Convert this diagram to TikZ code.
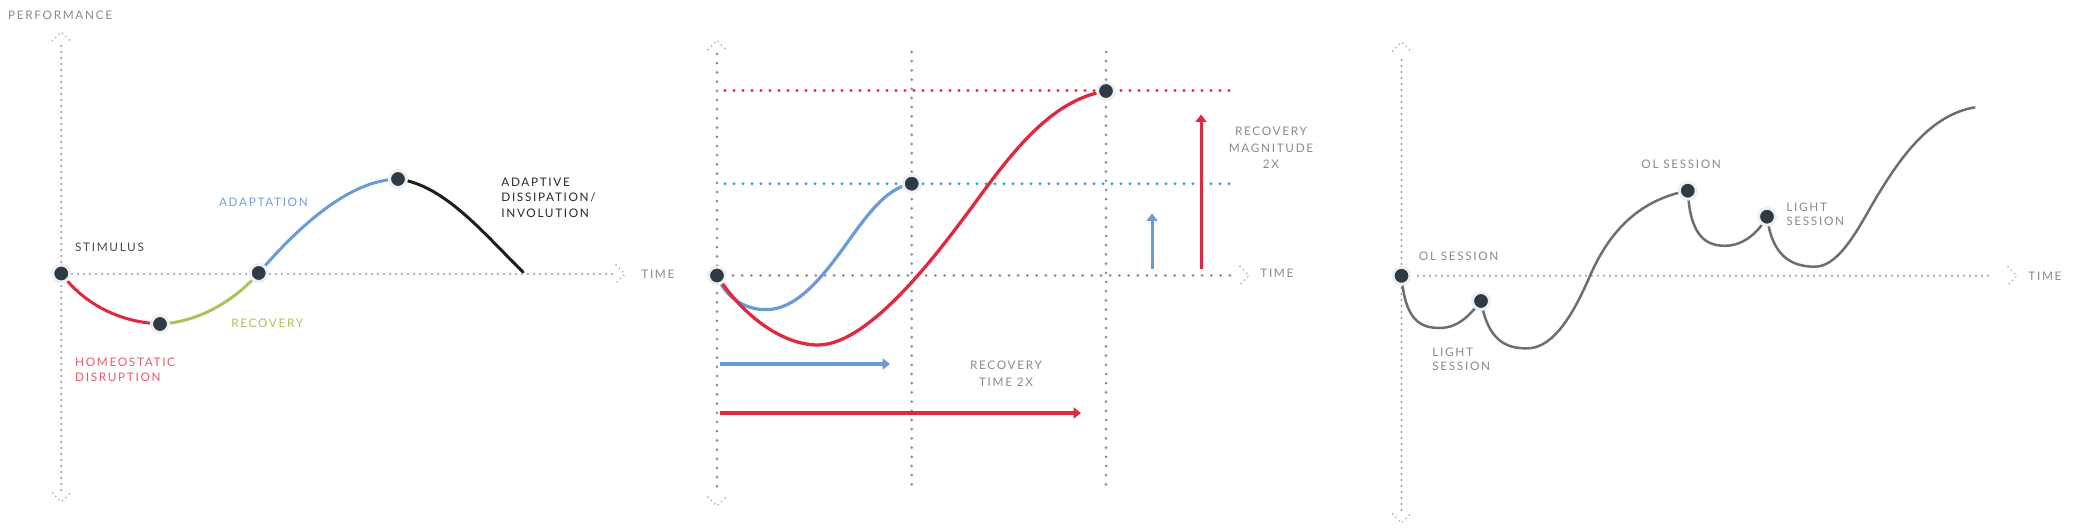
\documentclass[tikz,border=0pt]{standalone}
\usepackage{fontspec}
\setmainfont{Lato}[LetterSpace=14]
\usetikzlibrary{arrows.meta}
\definecolor{cred}{HTML}{E0283F}
\definecolor{credtxt}{HTML}{E85A6A}
\definecolor{cblue}{HTML}{6B9BD6}
\definecolor{cbluetxt}{HTML}{6FA0DA}
\definecolor{cgreen}{HTML}{A8C45A}
\definecolor{cblack}{HTML}{1E1E1E}
\definecolor{ccyan}{HTML}{2AA7DF}
\definecolor{cgraycurve}{HTML}{6E6E6E}
\definecolor{axisgray}{HTML}{9A9A9A}
\definecolor{gridgray}{HTML}{8E8E8E}
\definecolor{dotfill}{HTML}{2F3A45}
\definecolor{halo}{HTML}{EDF0F3}
\definecolor{txtgray}{HTML}{8A8A8A}
\definecolor{txtdark}{HTML}{4A4A4A}
\definecolor{txtblack}{HTML}{2A2A2A}
\begin{document}
\begin{tikzpicture}[x=0.5pt,y=-0.5pt,
  axisline/.style={draw=axisgray,line width=1.1pt,line cap=round,dash pattern=on 0pt off 3pt},
  gridline/.style={draw=gridgray,line width=1.5pt,line cap=round,dash pattern=on 0pt off 4.6pt},
  refline/.style={line width=1.6pt,line cap=round,dash pattern=on 0pt off 4.5pt},
  chev/.style={draw=axisgray,line width=0.8pt,line cap=round,dash pattern=on 0pt off 2.4pt},
  dotnode/.style={circle,fill=dotfill,draw=halo,line width=1.5pt,minimum size=8.5pt,inner sep=0pt},
  lbl/.style={font=\fontsize{5.9}{7.3}\selectfont,inner sep=0pt,align=left},
  curve/.style={line width=1.5pt,line cap=round},
  arr/.style={line width=1.6pt,-{Triangle[length=3.7pt,width=5.5pt]}}
]
\useasboundingbox (0,0) rectangle (2073,528);

% ================= Panel 1 =================
\coordinate (a1t) at (61.3,46);
\coordinate (a1b) at (61.3,490);
\coordinate (a1l) at (72,274);
\coordinate (a1r) at (614,274);
\coordinate (a1ct) at (61.3,32);
\coordinate (a1cb) at (61.3,502);
\coordinate (a1cr) at (625,274);
\draw[axisline] (a1t) -- (a1b);
\draw[axisline] (a1l) -- (a1r);
\draw[chev] ([shift={(-9,9)}]a1ct) -- (a1ct) -- ([shift={(9,9)}]a1ct);
\draw[chev] ([shift={(-9,-9)}]a1cb) -- (a1cb) -- ([shift={(9,-9)}]a1cb);
\draw[chev] ([shift={(-9,-9)}]a1cr) -- (a1cr) -- ([shift={(-9,9)}]a1cr);

\coordinate (S) at (61.3,273.5);
\coordinate (H) at (160,324);
\coordinate (R) at (258.7,273);
\coordinate (P) at (398,179);
\coordinate (E) at (523,272);
\draw[curve,cred] (S) .. controls (85,305) and (120,322) .. (H);
\draw[curve,cgreen] (H) .. controls (200,322) and (235,300) .. (R);
\draw[curve,cblue] (R) .. controls (300,225) and (350,180) .. (P);
\draw[curve,cblack] (P) .. controls (445,185) and (485,235) .. (E);
\node[dotnode] (Sd) at (S) {};
\node[dotnode] (Hd) at (H) {};
\node[dotnode] (Rd) at (R) {};
\node[dotnode] (Pd) at (P) {};

\node[lbl,text=txtgray,anchor=west] (perf) at (7.8,15.5) {PERFORMANCE};
\node[lbl,text=txtgray,anchor=west] (time1) at (641,274) {TIME};
\node[lbl,text=txtdark,anchor=west] (stim) at (74.8,247.5) {STIMULUS};
\node[lbl,text=cbluetxt,anchor=west] (adapt) at (218.7,202.6) {ADAPTATION};
\node[lbl,text=cgreen,anchor=west] (recov) at (231,323.4) {RECOVERY};
\node[lbl,text=credtxt,anchor=north west,font=\fontsize{5.9}{7.25}\selectfont] (homeo) at (74.8,357.8) {HOMEOSTATIC\\DISRUPTION};
\node[lbl,text=txtblack,anchor=north west,font=\fontsize{5.9}{7.65}\selectfont] (dissip) at (501,177.8) {ADAPTIVE\\DISSIPATION/\\INVOLUTION};

% ================= Panel 2 =================
\coordinate (g1t) at (717,54);
\coordinate (g1b) at (717,490);
\coordinate (g2t) at (911.7,52);
\coordinate (g2b) at (911.7,490);
\coordinate (g3t) at (1106,52);
\coordinate (g3b) at (1106,490);
\coordinate (g1ct) at (717,40.5);
\coordinate (g1cb) at (717,506);
\coordinate (gh0) at (733,275.5);
\coordinate (gh1) at (1236,275.5);
\coordinate (ghc) at (1249,275.5);
\coordinate (rl0) at (725,90.5);
\coordinate (rl1) at (1236,90.5);
\coordinate (bl0) at (725,183.7);
\coordinate (bl1) at (1236,183.7);
\draw[gridline] (g1t) -- (g1b);
\draw[gridline] (g2t) -- (g2b);
\draw[gridline] (g3t) -- (g3b);
\draw[gridline] (gh0) -- (gh1);
\draw[refline,draw=cred] (rl0) -- (rl1);
\draw[refline,draw=ccyan] (bl0) -- (bl1);
\draw[chev] ([shift={(-9,9)}]g1ct) -- (g1ct) -- ([shift={(9,9)}]g1ct);
\draw[chev] ([shift={(-9,-9)}]g1cb) -- (g1cb) -- ([shift={(9,-9)}]g1cb);
\draw[chev] ([shift={(-9,-9)}]ghc) -- (ghc) -- ([shift={(-9,9)}]ghc);

\coordinate (O2) at (717,275.5);
\coordinate (B2) at (911.7,183.7);
\coordinate (R2) at (1106,91);
\coordinate (bmin) at (766,309.6);
\coordinate (bmid) at (842,250);
\coordinate (rmin) at (818,345);
\coordinate (rmid) at (972,207);
\draw[line width=1.6pt,cblue,line cap=round] (O2) .. controls (725,297) and (745,310) .. (bmin)
   .. controls (795,310) and (820,280) .. (bmid)
   .. controls (865,218) and (885,188) .. (B2);
\draw[line width=1.65pt,cred,line cap=round] (O2) .. controls (740,312) and (780,345) .. (rmin)
   .. controls (870,345) and (940,250) .. (rmid)
   .. controls (1010,155) and (1050,100) .. (R2);
\node[dotnode] (O2d) at (O2) {};
\node[dotnode] (B2d) at (B2) {};
\node[dotnode] (R2d) at (R2) {};

\coordinate (ha0) at (719.6,364);
\coordinate (ha1) at (890,364);
\coordinate (hr0) at (719.6,413);
\coordinate (hr1) at (1081,413);
\coordinate (va0) at (1152,269);
\coordinate (va1) at (1152,213.5);
\coordinate (vr0) at (1201,269);
\coordinate (vr1) at (1201,114.5);
\draw[arr,cblue] (ha0) -- (ha1);
\draw[arr,cred] (hr0) -- (hr1);
\draw[arr,cblue,line width=1.5pt] (va0) -- (va1);
\draw[arr,cred,line width=1.5pt] (vr0) -- (vr1);

\node[lbl,text=txtgray,anchor=west] (time2) at (1260,273.5) {TIME};
\node[lbl,text=txtgray,anchor=north,align=center,font=\fontsize{5.9}{8.35}\selectfont] (rmag) at (1271,126.5) {RECOVERY\\MAGNITUDE\\2X};
\node[lbl,text=txtgray,anchor=north,align=center,font=\fontsize{5.9}{8.45}\selectfont] (rtime) at (1006,360.4) {RECOVERY\\TIME 2X};

% ================= Panel 3 =================
\coordinate (c1t) at (1401.5,60);
\coordinate (c1b) at (1401.5,510);
\coordinate (c1ct) at (1401.5,42);
\coordinate (c1cb) at (1401.5,523);
\coordinate (ch0) at (1418,275.8);
\coordinate (ch1) at (1991,275.8);
\coordinate (chc) at (2017,275.8);
\draw[axisline] (c1t) -- (c1b);
\draw[axisline] (ch0) -- (ch1);
\draw[chev] ([shift={(-9,9)}]c1ct) -- (c1ct) -- ([shift={(9,9)}]c1ct);
\draw[chev] ([shift={(-9,-9)}]c1cb) -- (c1cb) -- ([shift={(9,-9)}]c1cb);
\draw[chev] ([shift={(-9,-9)}]chc) -- (chc) -- ([shift={(-9,9)}]chc);

\coordinate (OL1) at (1401.5,275.8);
\coordinate (LS1) at (1481,301);
\coordinate (OL2) at (1687.8,190.7);
\coordinate (LS2) at (1767,216.7);
\coordinate (m1) at (1439.7,328);
\coordinate (m2) at (1527,348.4);
\coordinate (x2) at (1590,275.8);
\coordinate (m3) at (1725,245.8);
\coordinate (m4) at (1815,266.7);
\coordinate (x4) at (1876,198);
\coordinate (END) at (1974.5,107.4);
\draw[line width=1.25pt,cgraycurve,line cap=round]
   (OL1) .. controls (1405,320) and (1420,328) .. (m1)
   .. controls (1460,328) and (1472,312) .. (LS1);
\draw[line width=1.25pt,cgraycurve,line cap=round]
   (LS1) .. controls (1488,340) and (1505,348.4) .. (m2)
   .. controls (1555,348.4) and (1575,310) .. (x2)
   .. controls (1610,230) and (1640,200) .. (OL2);
\draw[line width=1.25pt,cgraycurve,line cap=round]
   (OL2) .. controls (1690,235) and (1705,245.8) .. (m3)
   .. controls (1745,245.8) and (1760,230) .. (LS2);
\draw[line width=1.25pt,cgraycurve,line cap=round]
   (LS2) .. controls (1772,255) and (1790,266.7) .. (m4)
   .. controls (1840,266.7) and (1860,225) .. (x4)
   .. controls (1900,158) and (1930,115) .. (END);
\node[dotnode] (OL1d) at (OL1) {};
\node[dotnode] (LS1d) at (LS1) {};
\node[dotnode] (OL2d) at (OL2) {};
\node[dotnode] (LS2d) at (LS2) {};

\node[lbl,text=txtgray,anchor=west] (time3) at (2028,275.8) {TIME};
\node[lbl,text=txtgray,anchor=west] (ols1) at (1418.5,256) {OL SESSION};
\node[lbl,text=txtgray,anchor=north west,font=\fontsize{5.9}{7}\selectfont] (lts1) at (1432,347.8) {LIGHT\\SESSION};
\node[lbl,text=txtgray,anchor=west] (ols2) at (1641,164.4) {OL SESSION};
\node[lbl,text=txtgray,anchor=north west,font=\fontsize{5.9}{7.2}\selectfont] (lts2) at (1786,202.4) {LIGHT\\SESSION};
\end{tikzpicture}
\end{document}
